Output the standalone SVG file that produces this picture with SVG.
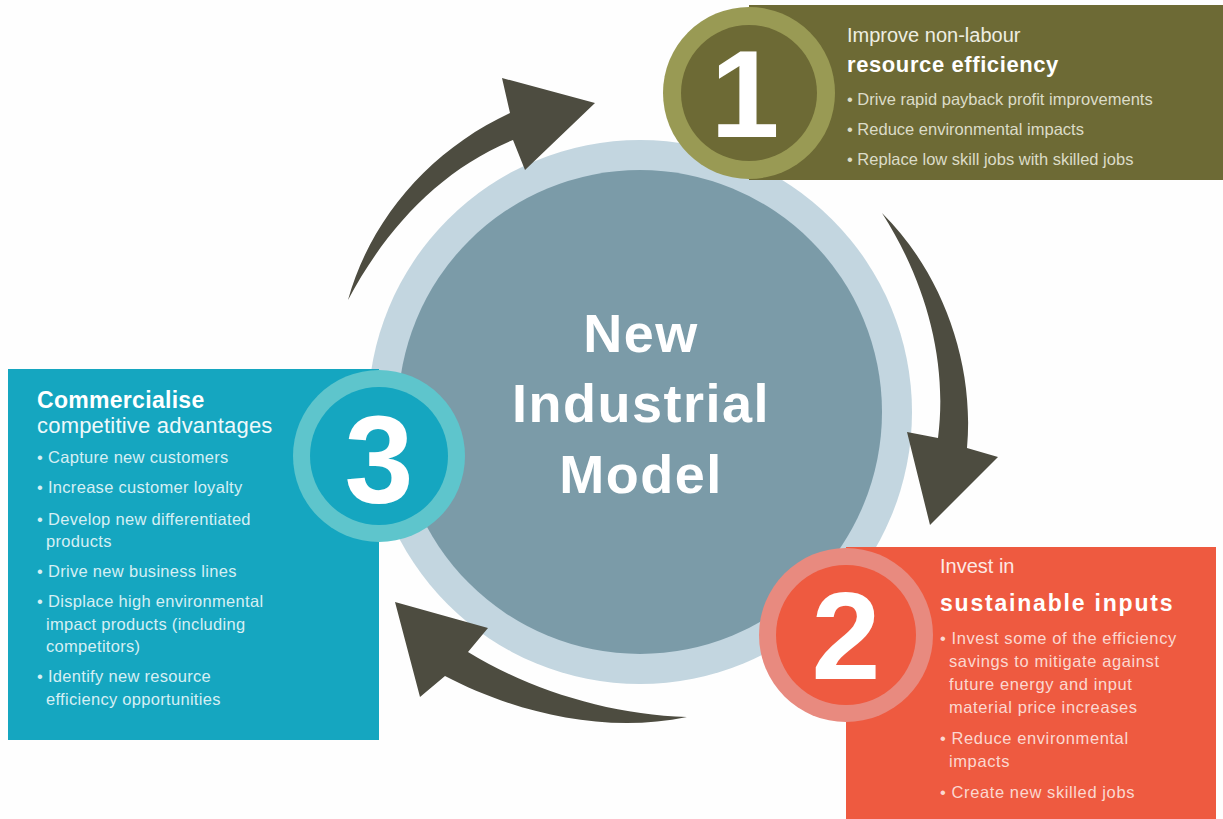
<svg xmlns="http://www.w3.org/2000/svg" width="1223" height="819" viewBox="0 0 1223 819">
<style>
text{font-family:"Liberation Sans",Arial,sans-serif}
.num{font-weight:bold;font-size:124px;fill:#ffffff;text-anchor:middle}
.main{font-weight:bold;font-size:54px;fill:#ffffff;text-anchor:middle;letter-spacing:1.5px}
.h1{font-size:20px}
.hb{font-weight:bold;font-size:22px;letter-spacing:0.6px}
.b{font-size:16.5px}
.b3{font-size:16.5px;letter-spacing:0.3px}
.b2{font-size:16.5px;letter-spacing:0.6px}
.arrow{fill:#4d4c40}
</style>
<rect width="1223" height="819" fill="#fefefe"/>
<g id="center">
<circle cx="640" cy="412" r="272" fill="#c3d6e0"/>
<circle cx="640" cy="412" r="242" fill="#7b9ba8"/>
<text class="main" x="641" y="352">New</text>
<text class="main" x="641" y="422">Industrial</text>
<text class="main" x="641" y="493">Model</text>
</g>
<g id="connectors">
<path class="arrow" d="M 348,300 C 370,220 430,150 510,113 L 502,78 L 595,103 L 525,170 L 513,140 C 440,170 385,230 348,300 Z"/>
<path class="arrow" d="M 882,213 C 940,270 975,360 967,448 L 998,457 L 930,525 L 907,432 L 938,438 C 948,360 925,280 882,213 Z"/>
<path class="arrow" d="M 687,717 C 600,735 510,710 445,676 L 420,697 L 395,602 L 488,628 L 468,652 C 530,690 610,715 687,717 Z"/>
</g>
<g id="node1">
<rect x="749" y="5" width="474" height="175" fill="#6d6a35"/>
<circle cx="749" cy="93" r="86" fill="#999a54"/>
<circle cx="749" cy="93" r="68" fill="#6d6a35"/>
<text class="num" x="745" y="137">1</text>
<text class="h1" x="847" y="42" fill="#eeeee2">Improve non-labour</text>
<text class="hb" x="847" y="72" fill="#ffffff">resource efficiency</text>
<text class="b" x="847" y="105" fill="#dcdcc8">• Drive rapid payback profit improvements</text>
<text class="b" x="847" y="135" fill="#dcdcc8">• Reduce environmental impacts</text>
<text class="b" x="847" y="165" fill="#dcdcc8">• Replace low skill jobs with skilled jobs</text>
</g>
<g id="node3">
<rect x="8" y="369" width="371" height="371" fill="#15a6c0"/>
<circle cx="379" cy="456" r="86" fill="#5ec5cc"/>
<circle cx="379" cy="456" r="69" fill="#15a6c0"/>
<text class="num" x="379" y="503">3</text>
<text class="hb" x="37" y="408" fill="#ffffff" style="font-size:23px;letter-spacing:0.3px">Commercialise</text>
<text class="h1" x="37" y="433" fill="#eef9fb" style="font-size:22px;letter-spacing:0.2px">competitive advantages</text>
<text class="b3" x="37" y="463" fill="#d6eff4">• Capture new customers</text>
<text class="b3" x="37" y="493" fill="#d6eff4">• Increase customer loyalty</text>
<text class="b3" x="37" y="525" fill="#d6eff4">• Develop new differentiated</text>
<text class="b3" x="46" y="547" fill="#d6eff4">products</text>
<text class="b3" x="37" y="577" fill="#d6eff4">• Drive new business lines</text>
<text class="b3" x="37" y="607" fill="#d6eff4">• Displace high environmental</text>
<text class="b3" x="46" y="630" fill="#d6eff4">impact products (including</text>
<text class="b3" x="46" y="652" fill="#d6eff4">competitors)</text>
<text class="b3" x="37" y="682" fill="#d6eff4">• Identify new resource</text>
<text class="b3" x="46" y="705" fill="#d6eff4">efficiency opportunities</text>
</g>
<g id="node2">
<rect x="846" y="547" width="370" height="272" fill="#ee5a40"/>
<circle cx="846" cy="635" r="87" fill="#e88a7f"/>
<circle cx="846" cy="635" r="70" fill="#ee5a40"/>
<text class="num" x="846" y="679">2</text>
<text class="h1" x="940" y="573" fill="#fde9e4">Invest in</text>
<text class="hb" x="940" y="611" fill="#ffffff" style="font-size:23px;letter-spacing:1.8px">sustainable inputs</text>
<text class="b2" x="940" y="644" fill="#fbd8d0">• Invest some of the efficiency</text>
<text class="b2" x="949" y="667" fill="#fbd8d0">savings to mitigate against</text>
<text class="b2" x="949" y="690" fill="#fbd8d0">future energy and input</text>
<text class="b2" x="949" y="713" fill="#fbd8d0">material price increases</text>
<text class="b2" x="940" y="744" fill="#fbd8d0">• Reduce environmental</text>
<text class="b2" x="949" y="767" fill="#fbd8d0">impacts</text>
<text class="b2" x="940" y="798" fill="#fbd8d0">• Create new skilled jobs</text>
</g>
</svg>
